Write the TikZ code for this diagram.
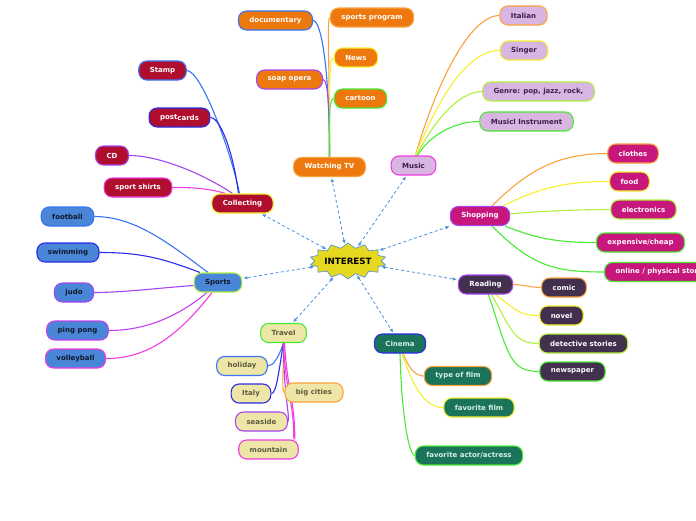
\documentclass[tikz,border=0pt]{standalone}
\usepackage{fontspec}
\setmainfont{DejaVu Sans}
\usetikzlibrary{shapes.symbols,arrows.meta}
\pgfdeclarelayer{background}
\pgfsetlayers{background,main}
\definecolor{lOrange}{HTML}{FBA23E}
\definecolor{lYellow}{HTML}{F4F030}
\definecolor{lYGreen}{HTML}{B2F040}
\definecolor{lGreen}{HTML}{48EA34}
\definecolor{lBlue}{HTML}{3A74F4}
\definecolor{lDBlue}{HTML}{2C2CE6}
\definecolor{lPurple}{HTML}{A644F2}
\definecolor{lMagenta}{HTML}{F03CE0}
\definecolor{fTV}{HTML}{EC780E}
\definecolor{fMus}{HTML}{D9B6E2}
\definecolor{tMus}{HTML}{3C1E4A}
\definecolor{fCol}{HTML}{B00E2E}
\definecolor{fSpo}{HTML}{4A86D8}
\definecolor{tSpo}{HTML}{101828}
\definecolor{fTra}{HTML}{EDE6A6}
\definecolor{tTra}{HTML}{5C5A40}
\definecolor{fCin}{HTML}{1B7459}
\definecolor{tCin}{HTML}{D6F0E6}
\definecolor{fSho}{HTML}{C8177C}
\definecolor{fRea}{HTML}{43304F}
\definecolor{dashBlue}{HTML}{4A90DC}
\definecolor{starFill}{HTML}{E6D81E}
\begin{document}
\begin{tikzpicture}[x=1pt,y=-1pt,
  box/.style={draw, rounded corners=8pt, line width=1.1pt, minimum height=19pt,
    inner xsep=11pt, inner ysep=2pt, font=\fontsize{7}{8}\selectfont\bfseries},
  tvb/.style={box, fill=fTV, text=white},
  musb/.style={box, fill=fMus, text=tMus},
  colb/.style={box, fill=fCol, text=white},
  spob/.style={box, fill=fSpo, text=tSpo},
  trab/.style={box, fill=fTra, text=tTra},
  cinb/.style={box, fill=fCin, text=tCin},
  shob/.style={box, fill=fSho, text=white},
  reab/.style={box, fill=fRea, text=white},
  br/.style={line width=1.1pt},
  dl/.style={draw=dashBlue, line width=0.8pt, dash pattern=on 3pt off 2.5pt,
    {Latex[length=4pt,width=3.5pt]}-{Latex[length=4pt,width=3.5pt]}, shorten <=1pt, shorten >=1pt}
]
\useasboundingbox (0,0) rectangle (696,520);

% centre
\node[starburst, starburst points=14, starburst point height=5pt, random starburst=0,
  fill=starFill, draw=dashBlue, line width=0.6pt, minimum width=68pt, minimum height=36pt,
  inner sep=0pt, font=\fontsize{8.7}{10}\selectfont\bfseries] (c) at (348,261) {INTEREST};

% main topics
\node[tvb, draw=lOrange] (wtv) at (329.5,167) {Watching TV};
\node[musb, draw=lMagenta] (mus) at (413.5,165.5) {Music};
\node[colb, draw=lYellow] (col) at (242.5,203.5) {Collecting};
\node[spob, draw=lYGreen] (spo) at (218,282.5) {Sports};
\node[trab, draw=lGreen] (tra) at (283.5,333) {Travel};
\node[cinb, draw=lDBlue] (cin) at (400,343.5) {Cinema};
\node[shob, draw=lPurple] (sho) at (480,216) {Shopping};
\node[reab, draw=lPurple] (rea) at (485.5,284.5) {Reading};

% Watching TV
\node[tvb, draw=lBlue] (doc) at (275.5,20.5) {documentary};
\node[tvb, draw=lOrange] (spp) at (372,17.5) {sports program};
\node[tvb, draw=lYellow] (news) at (356,57.5) {News};
\node[tvb, draw=lPurple] (soap) at (289.5,79.5) {soap opera};
\node[tvb, draw=lGreen] (cart) at (360.5,98.5) {cartoon};
% Music
\node[musb, draw=lOrange] (ita) at (523.5,15.5) {Italian};
\node[musb, draw=lYellow] (sing) at (524,50.5) {Singer};
\node[musb, draw=lYGreen] (gen) at (538.5,91.5) {Genre: pop, jazz, rock,};
\node[musb, draw=lGreen] (inst) at (526.5,121.5) {Musicl Instrument};
% Collecting
\node[colb, draw=lBlue] (stamp) at (162.5,70.5) {Stamp};
\node[colb, draw=lDBlue] (post) at (179.5,117.5) {\raisebox{0.8pt}{post}cards};
\node[colb, draw=lPurple] (cd) at (112,155.5) {CD};
\node[colb, draw=lMagenta] (shirt) at (138,187.5) {sport shirts};
% Sports
\node[spob, draw=lBlue] (foot) at (67.5,216.5) {football};
\node[spob, draw=lDBlue] (swim) at (68,252.5) {swimming};
\node[spob, draw=lPurple] (judo) at (74,292.5) {judo};
\node[spob, draw=lPurple!60!lMagenta] (ping) at (77.5,330.5) {ping pong};
\node[spob, draw=lMagenta] (vol) at (75.5,358.5) {volleyball};
% Travel
\node[trab, draw=lBlue] (hol) at (242,366) {holiday};
\node[trab, draw=lDBlue] (italy) at (251,393.5) {Italy};
\node[trab, draw=lOrange] (big) at (314,392.5) {big cities};
\node[trab, draw=lPurple] (sea) at (261.5,421.5) {seaside};
\node[trab, draw=lMagenta] (mount) at (268.5,449.5) {mountain};
% Cinema
\node[cinb, draw=lOrange] (tof) at (458,376) {type of film};
\node[cinb, draw=lYellow] (ff) at (479,407.5) {favorite film};
\node[cinb, draw=lGreen] (fa) at (469,455.5) {favorite actor/actress};
% Shopping
\node[shob, draw=lOrange] (clo) at (633,153.5) {clothes};
\node[shob, draw=lYellow] (food) at (629.5,181.5) {food};
\node[shob, draw=lYGreen] (elec) at (643.5,209.5) {electronics};
\node[shob, draw=lGreen] (exp) at (640.5,242.5) {expensive/cheap};
\node[shob, draw=lGreen, anchor=west] (onl) at (604,272) {online / physical store};
% Reading
\node[reab, draw=lOrange] (comic) at (564,287.5) {comic};
\node[reab, draw=lYellow] (novel) at (561.5,315.5) {novel};
\node[reab, draw=lYGreen] (det) at (583.5,343.5) {detective stories};
\node[reab, draw=lGreen] (newsp) at (572.5,371.5) {newspaper};

\begin{pgfonlayer}{background}
\fill[white] (0,0) rectangle (696,520);
% Watching TV
\draw[br, lBlue] (wtv.north) .. controls +(0,-90) and +(8,0) .. (doc.east);
\draw[br, lOrange] (wtv.north) .. controls +(0,-100) and +(-3,0) .. (spp.west);
\draw[br, lYellow] (wtv.north) .. controls +(0,-70) and +(-5,0) .. (news.west);
\draw[br, lPurple] (wtv.north) .. controls +(0,-50) and +(5,0) .. (soap.east);
\draw[br, lGreen] (wtv.north) .. controls +(0,-40) and +(-5,0) .. (cart.west);
% Music
\draw[br, lOrange] ([xshift=2pt]mus.north) .. controls +(20,-70) and +(-30,0) .. (ita.west);
\draw[br, lYellow] ([xshift=2pt]mus.north) .. controls +(20,-50) and +(-35,0) .. (sing.west);
\draw[br, lYGreen] ([xshift=3pt]mus.north) .. controls +(15,-30) and +(-25,0) .. (gen.west);
\draw[br, lGreen] ([xshift=4pt]mus.north) .. controls +(12,-20) and +(-25,0) .. (inst.west);
% Collecting
\draw[br, lBlue] ([xshift=-3pt]col.north) .. controls +(-8,-40) and +(15,0) .. (stamp.east);
\draw[br, lDBlue] ([xshift=-4pt]col.north) .. controls +(-5,-40) and +(10,0) .. (post.east);
\draw[br, lPurple] ([xshift=-10pt]col.north) .. controls +(-30,-20) and +(30,0) .. (cd.east);
\draw[br, lMagenta] ([xshift=-17pt]col.north) .. controls +(-20,-6) and +(15,0) .. (shirt.east);
% Sports
\draw[br, lBlue] ([xshift=-10pt]spo.north) .. controls +(-40,-30) and +(40,0) .. (foot.east);
\draw[br, lDBlue] ([xshift=-18pt]spo.north) .. controls +(-40,-15) and +(40,0) .. (swim.east);
\draw[br, lPurple] ([yshift=-3pt]spo.west) .. controls +(-30,2) and +(30,0) .. (judo.east);
\draw[br, lPurple!60!lMagenta] ([xshift=-11pt]spo.south) .. controls +(-30,25) and +(35,0) .. (ping.east);
\draw[br, lMagenta] ([xshift=-6pt]spo.south) .. controls +(-35,45) and +(40,0) .. (vol.east);
% Travel
\draw[br, lBlue] (tra.south) .. controls +(-5,15) and +(5,0) .. (hol.east);
\draw[br, lDBlue] (tra.south) .. controls +(-5,30) and +(5,0) .. (italy.east);
\draw[br, lOrange] (tra.south) .. controls +(0,30) and +(-3,0) .. (big.west);
\draw[br, lPurple] (tra.south) .. controls +(0,50) and +(2,-5) .. (sea.east);
\draw[br, lMagenta] (tra.south) .. controls +(2,50) and +(0,-40) .. ([xshift=-5pt]mount.north east);
\draw[br, lMagenta] ([xshift=1pt]tra.south) .. controls +(3,50) and +(0,-40) .. ([xshift=-4pt]mount.north east);
% Cinema
\draw[br, lOrange] ([xshift=3pt]cin.south) .. controls +(5,12) and +(-10,0) .. (tof.west);
\draw[br, lYellow] ([xshift=2pt]cin.south) .. controls +(10,30) and +(-20,0) .. (ff.west);
\draw[br, lGreen] (cin.south) .. controls +(2,70) and +(-5,0) .. (fa.west);
% Shopping
\draw[br, lOrange] ([xshift=12pt]sho.north) .. controls +(35,-35) and +(-50,0) .. (clo.west);
\draw[br, lYellow] ([xshift=23pt]sho.north) .. controls +(40,-20) and +(-40,0) .. (food.west);
\draw[br, lYGreen] ([yshift=2pt]sho.east) .. controls +(30,-3) and +(-30,0) .. (elec.west);
\draw[br, lGreen] ([xshift=25pt]sho.south) .. controls +(30,12) and +(-40,0) .. (exp.west);
\draw[br, lGreen] ([xshift=12pt]sho.south) .. controls +(40,40) and +(-50,0) .. (onl.west);
% Reading
\draw[br, lOrange] (rea.east) .. controls +(10,0) and +(-10,0) .. (comic.west);
\draw[br, lYellow] ([xshift=10pt]rea.south) .. controls +(20,15) and +(-20,0) .. (novel.west);
\draw[br, lYGreen] ([xshift=6pt]rea.south) .. controls +(20,35) and +(-25,0) .. (det.west);
\draw[br, lGreen] ([xshift=3pt]rea.south) .. controls +(20,60) and +(-30,0) .. (newsp.west);
\end{pgfonlayer}

% dashed links
\draw[dl] (c) -- (wtv);
\draw[dl] (c) -- (mus);
\draw[dl] (c) -- (col);
\draw[dl] (c) -- (spo);
\draw[dl] (c) -- (tra);
\draw[dl] (c) -- (cin);
\draw[dl] (c) -- (sho);
\draw[dl] (c) -- (rea);
\end{tikzpicture}
\end{document}
